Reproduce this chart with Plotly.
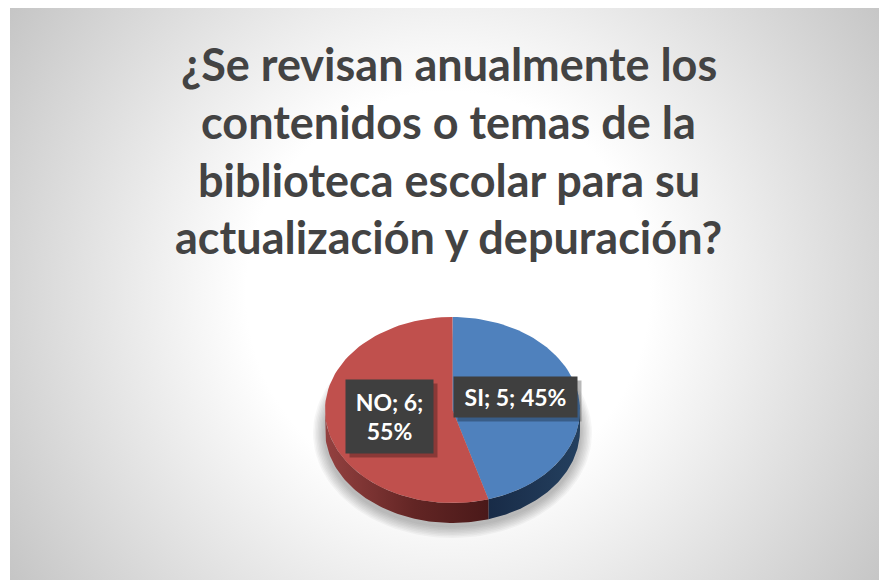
import base64
import numpy as np
import plotly.graph_objects as go

# ---------------- data ----------------
title_lines = [
    "¿Se revisan anualmente los",
    "contenidos o temas de la",
    "biblioteca escolar para su",
    "actualización y depuración?",
]
labels = ["SI", "NO"]
values = [5, 6]

# ---------------- style / geometry ----------------
W, H = 887, 580
OFF = 8  # page body margin compensation
CX, CY, RX, RY, DEPTH = 452.5, 410.0, 127.5, 93.0, 20.0
top_colors = ["#4f81bd", "#c0504d"]
side_scales = [
    [[0, "#182b47"], [1, "#24405f"]],
    [[0, "#944140"], [0.55, "#622524"], [1, "#4a1919"]],
]
title_font = dict(family="Lato, 'Open Sans', sans-serif", size=45, color="#434343")
label_font = dict(family="Lato, 'Open Sans', sans-serif", size=23, color="#ffffff")
title_y = [64, 122, 180, 237]
title_x = 448.5

vals = np.array(values, dtype=float)
frac = vals / vals.sum()
pct = np.round(frac * 100).astype(int)
ends = np.cumsum(frac) * 360.0
starts = ends - frac * 360.0


def arc(t0, t1, dy=0.0, n=80):
    t = np.radians(np.linspace(t0, t1, n))
    return CX + RX * np.sin(t), CY - RY * np.cos(t) + dy


fig = go.Figure()

# soft shadow under pie
for k in range(8, 0, -1):
    t = np.radians(np.linspace(0, 360, 121))
    fig.add_trace(go.Scatter(
        x=CX + (RX + k * 1.5) * np.sin(t),
        y=CY + DEPTH + 3 - (RY + k * 1.5) * np.cos(t),
        fill="toself", mode="lines", line=dict(width=0),
        fillcolor="rgba(0,0,0,0.035)", hoverinfo="skip", showlegend=False))

# side walls (front half: 90..270 deg)
for i in range(len(values)):
    s0, s1 = max(starts[i], 90), min(ends[i], 270)
    if s1 <= s0:
        continue
    xa, ya = arc(s0, s1)
    xb, yb = arc(s1, s0, DEPTH)
    fig.add_trace(go.Scatter(
        x=np.concatenate([xa, xb, xa[:1]]), y=np.concatenate([ya, yb, ya[:1]]),
        fill="toself", mode="lines", line=dict(width=0),
        fillgradient=dict(type="horizontal", colorscale=side_scales[i]),
        hoverinfo="skip", showlegend=False))

# top slices
for i in range(len(values)):
    xa, ya = arc(starts[i], ends[i])
    fig.add_trace(go.Scatter(
        x=np.concatenate([[CX], xa, [CX]]), y=np.concatenate([[CY], ya, [CY]]),
        fill="toself", mode="lines", line=dict(width=0),
        fillcolor=top_colors[i], name=labels[i],
        hovertext=f"{labels[i]}: {values[i]} ({pct[i]}%)", hoverinfo="text",
        showlegend=False))

annotations = []
# title
for line, yy in zip(title_lines, title_y):
    annotations.append(dict(x=title_x, y=yy, xref="x", yref="y", text=f"<b>{line}</b>",
                            showarrow=False, font=title_font, xanchor="center", yanchor="middle"))

# data labels
for i in range(len(values)):
    mid = np.radians((starts[i] + ends[i]) / 2)
    lx = CX + 0.5 * RX * np.sin(mid)
    ly = CY - 0.5 * RY * np.cos(mid)
    txt = f"{labels[i]}; {values[i]}; {pct[i]}%"
    if i == 1:
        txt = f"{labels[i]}; {values[i]};<br>{pct[i]}%"
        bw, bh, yoff = 87, 73, 0
    else:
        bw, bh, yoff = 123, 40, -6
    # shadow box
    annotations.append(dict(x=lx, y=ly + yoff, xref="x", yref="y", text=" ", showarrow=False,
                            width=bw, height=bh, bgcolor="rgba(0,0,0,0.28)", borderpad=0,
                            xshift=4, yshift=-4, font=label_font))
    annotations.append(dict(x=lx, y=ly + yoff, xref="x", yref="y", text=f"<b>{txt}</b>",
                            showarrow=False, width=bw, height=bh, bgcolor="#3f3f3f",
                            borderpad=0, font=label_font, align="center", valign="middle"))

# background gradient (radial, Excel-like)
svg = (
    '<svg xmlns="http://www.w3.org/2000/svg" width="890" height="585">'
    '<defs><radialGradient id="g" gradientUnits="userSpaceOnUse" cx="438" cy="286" r="530">'
    '<stop offset="0" stop-color="#ffffff"/><stop offset="0.38" stop-color="#ffffff"/>'
    '<stop offset="1" stop-color="#c4c4c4"/></radialGradient></defs>'
    '<rect width="890" height="585" fill="url(#g)"/></svg>'
)
src = "data:image/svg+xml;base64," + base64.b64encode(svg.encode()).decode()

fig.update_layout(
    width=W, height=H, margin=dict(l=0, r=0, t=0, b=0),
    paper_bgcolor="#ffffff", plot_bgcolor="rgba(0,0,0,0)",
    xaxis=dict(range=[OFF, W + OFF], visible=False, fixedrange=True),
    yaxis=dict(range=[H + OFF, OFF], visible=False, fixedrange=True),
    annotations=annotations,
    images=[dict(source=src, xref="x", yref="y", x=10, y=7, sizex=890, sizey=585,
                 xanchor="left", yanchor="top", sizing="stretch", layer="below")],
    shapes=[dict(type="rect", xref="x", yref="y", x0=10.5, y0=7.5, x1=W + 20, y1=H + 20,
                 line=dict(color="#b8b8b8", width=1), layer="below")],
)

fig.write_html("out.html")
